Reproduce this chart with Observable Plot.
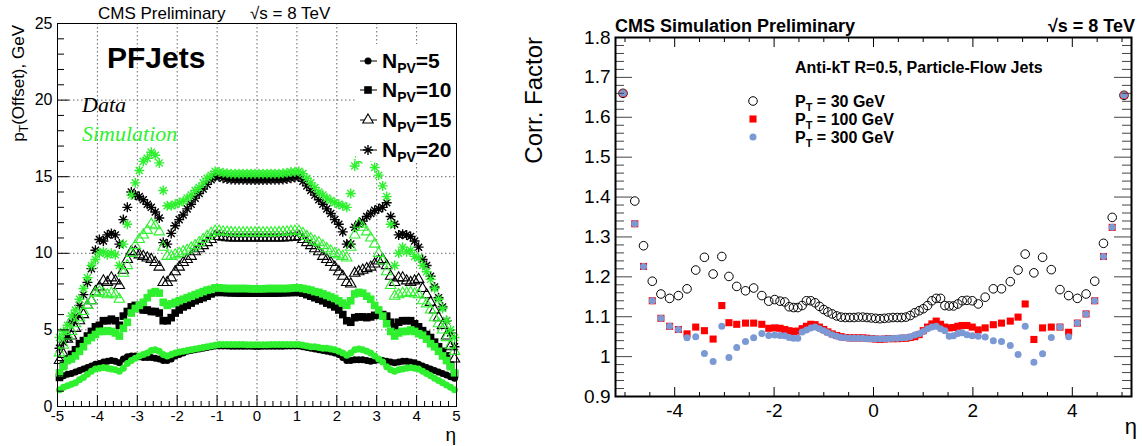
<!DOCTYPE html>
<html><head><meta charset="utf-8">
<script src="https://cdn.jsdelivr.net/npm/d3@7"></script>
<script src="https://cdn.jsdelivr.net/npm/@observablehq/plot@0.6"></script>
<style>
html,body{margin:0;padding:0;background:#fff;}
#wrap{position:relative;width:1142px;height:446px;overflow:hidden;font-family:"Liberation Sans",Arial,sans-serif;}
#wrap svg{position:absolute;top:0;}
</style></head><body><div id="wrap"></div>
<script>
// ---------------- LEFT PANEL DATA: offset pT vs eta ----------------
const etaL = [
-4.95,-4.85,-4.75,-4.65,-4.55,-4.45,-4.35,-4.25,-4.15,-4.05,
-3.95,-3.85,-3.75,-3.65,-3.55,-3.45,-3.35,-3.25,-3.15,-3.05,
-2.95,-2.85,-2.75,-2.65,-2.55,-2.45,-2.35,-2.25,-2.15,-2.05,
-1.95,-1.85,-1.75,-1.65,-1.55,-1.45,-1.35,-1.25,-1.15,-1.05,
-0.95,-0.85,-0.75,-0.65,-0.55,-0.45,-0.35,-0.25,-0.15,-0.05,
0.05,0.15,0.25,0.35,0.45,0.55,0.65,0.75,0.85,0.95,
1.05,1.15,1.25,1.35,1.45,1.55,1.65,1.75,1.85,1.95,
2.05,2.15,2.25,2.35,2.45,2.55,2.65,2.75,2.85,2.95,
3.05,3.15,3.25,3.35,3.45,3.55,3.65,3.75,3.85,3.95,
4.05,4.15,4.25,4.35,4.45,4.55,4.65,4.75,4.85,4.95];

const dataNPV5 = [
1.9,2.0,2.1,2.15,2.25,2.35,2.45,2.55,2.65,2.75,
2.8,2.9,2.95,3.0,2.95,2.85,3.1,3.25,3.3,3.3,
3.25,3.2,3.2,3.2,3.15,3.1,3.0,3.0,3.1,3.3,
3.4,3.5,3.6,3.65,3.7,3.75,3.8,3.85,3.9,3.95,
3.95,3.95,3.95,3.94,3.94,3.93,3.93,3.93,3.93,3.92,
3.92,3.93,3.93,3.93,3.93,3.94,3.94,3.95,3.95,3.95,
3.95,3.9,3.85,3.8,3.75,3.7,3.65,3.6,3.55,3.5,
3.4,3.2,3.0,3.0,3.05,3.05,3.05,3.0,2.95,3.0,
3.05,3.0,2.95,2.9,2.85,2.9,2.95,2.95,2.9,2.85,
2.75,2.65,2.55,2.45,2.35,2.25,2.15,2.05,1.95,1.85];
const simNPV5 = [
1.1,1.25,1.35,1.45,1.55,1.75,1.9,2.1,2.3,2.45,
2.5,2.55,2.5,2.45,2.4,2.3,2.5,2.8,3.0,3.15,
3.3,3.4,3.5,3.65,3.7,3.6,3.4,3.3,3.4,3.5,
3.55,3.6,3.65,3.7,3.75,3.8,3.85,3.9,3.95,4.0,
4.05,4.05,4.05,4.04,4.04,4.04,4.04,4.03,4.03,4.03,
4.03,4.03,4.03,4.04,4.04,4.04,4.04,4.05,4.05,4.05,
4.05,4.0,3.95,3.9,3.9,3.85,3.8,3.8,3.75,3.7,
3.6,3.5,3.35,3.5,3.7,3.75,3.7,3.6,3.5,3.3,
3.1,2.9,2.6,2.4,2.3,2.4,2.45,2.5,2.55,2.5,
2.45,2.3,2.15,2.0,1.85,1.7,1.55,1.4,1.25,1.1];
const dataNPV10 = [
1.9,2.7,3.1,3.4,3.7,4.1,4.3,4.6,4.9,5.2,
5.3,5.6,5.6,5.7,5.6,5.3,5.9,6.2,6.5,6.6,
6.4,6.3,6.3,6.2,6.2,6.1,5.6,5.6,5.8,6.1,
6.3,6.5,6.6,6.75,6.9,7.0,7.1,7.2,7.35,7.45,
7.45,7.45,7.43,7.42,7.41,7.4,7.4,7.4,7.4,7.4,
7.4,7.4,7.4,7.4,7.4,7.41,7.42,7.43,7.44,7.45,
7.45,7.4,7.3,7.2,7.1,7.0,6.9,6.75,6.65,6.5,
6.3,6.0,5.6,5.5,5.8,5.85,5.85,5.8,5.85,5.95,
6.0,6.0,5.9,5.5,5.2,5.5,5.6,5.6,5.6,5.4,
5.2,4.95,4.7,4.5,4.2,3.9,3.6,3.3,2.7,2.1];
const simNPV10 = [
2.2,2.6,3.0,3.1,3.3,3.6,3.9,4.3,4.5,4.7,
4.9,4.9,4.95,4.9,4.8,4.6,5.1,5.5,6.1,6.4,
6.6,6.8,7.1,7.4,7.5,7.4,6.8,6.6,6.7,6.8,
6.9,7.0,7.1,7.2,7.3,7.4,7.5,7.6,7.65,7.75,
7.75,7.72,7.7,7.7,7.7,7.7,7.7,7.7,7.68,7.68,
7.68,7.68,7.7,7.7,7.7,7.7,7.7,7.7,7.72,7.75,
7.75,7.7,7.65,7.6,7.5,7.45,7.35,7.25,7.15,7.05,
6.9,6.75,6.6,6.9,7.35,7.45,7.4,7.2,7.0,6.6,
6.3,5.9,5.4,4.9,4.6,4.8,4.9,4.9,5.0,4.9,
4.75,4.65,4.4,4.1,3.9,3.6,3.3,3.0,2.6,2.2];
const dataNPV15 = [
3.0,3.4,4.4,4.6,5.1,5.6,6.0,6.6,6.9,7.5,
7.8,8.2,8.1,8.4,8.2,7.9,8.9,9.6,10.1,10.1,
9.9,9.8,9.7,9.6,9.4,9.1,8.1,8.1,8.4,8.8,
9.1,9.4,9.6,9.8,10.1,10.3,10.5,10.7,10.9,11.1,
11.1,11.05,11.02,11.0,11.0,11.0,11.0,11.0,11.0,11.0,
11.0,11.0,11.0,11.0,11.0,11.0,11.0,11.02,11.05,11.05,
11.1,10.9,10.7,10.5,10.3,10.1,9.8,9.6,9.4,9.1,
8.8,8.5,8.1,8.0,8.7,8.8,8.9,9.0,9.1,9.3,
9.5,9.6,9.2,8.5,8.1,8.4,8.4,8.2,8.1,8.2,
8.3,7.7,7.3,6.8,6.3,5.8,5.3,4.6,3.9,3.1];
const simNPV15 = [
3.5,4.0,4.6,4.9,5.4,5.8,6.2,6.6,6.9,7.4,
7.5,7.4,7.3,7.4,7.3,7.0,8.7,9.2,10.0,10.5,
10.9,11.2,11.5,11.9,11.8,11.4,10.4,9.8,9.8,9.9,
10.0,10.1,10.2,10.35,10.5,10.7,10.9,11.1,11.3,11.45,
11.45,11.4,11.38,11.36,11.35,11.35,11.35,11.35,11.35,11.35,
11.35,11.35,11.35,11.35,11.35,11.36,11.38,11.4,11.43,11.45,
11.45,11.3,11.1,10.95,10.8,10.7,10.5,10.3,10.15,10.0,
9.9,9.8,9.7,10.4,11.2,11.9,11.7,11.4,11.0,10.6,
10.0,9.5,8.8,7.9,7.2,7.3,7.4,7.4,7.45,7.35,
7.3,6.9,6.7,6.3,5.8,5.4,5.0,4.5,4.0,3.6];
const dataNPV20 = [
3.8,4.2,4.5,5.5,5.9,6.6,7.3,8.1,9.0,10.2,
10.9,10.8,11.2,11.3,11.2,10.6,12.2,13.0,14.0,13.8,
13.7,13.5,13.2,13.0,12.7,12.3,10.7,10.6,11.3,11.8,
12.2,12.5,12.9,13.2,13.6,13.9,14.2,14.5,14.8,15.0,
15.0,14.9,14.85,14.82,14.8,14.8,14.8,14.78,14.78,14.78,
14.78,14.78,14.78,14.8,14.8,14.8,14.82,14.85,14.9,14.95,
15.0,14.7,14.4,14.1,13.8,13.5,13.2,12.9,12.6,12.2,
11.9,11.4,10.6,10.6,11.7,11.9,12.1,12.4,12.6,12.8,
12.9,13.0,13.3,12.4,11.9,11.2,11.25,11.2,11.1,10.8,
10.4,9.6,9.2,8.5,7.8,7.1,6.5,5.6,4.8,3.9];
const simNPV20 = [
4.5,4.9,5.3,5.9,6.3,7.0,7.7,8.4,9.2,9.6,
10.0,10.1,9.9,10.0,9.9,9.2,10.6,11.9,13.8,14.6,
15.4,16.0,16.2,16.6,16.4,15.9,14.1,13.1,13.1,13.2,
13.3,13.4,13.6,13.8,14.1,14.3,14.6,14.9,15.1,15.35,
15.3,15.25,15.22,15.2,15.2,15.2,15.2,15.2,15.2,15.2,
15.2,15.2,15.2,15.2,15.2,15.2,15.22,15.25,15.3,15.3,
15.35,15.2,14.9,14.6,14.3,14.0,13.8,13.6,13.45,13.3,
13.2,13.1,13.0,13.9,15.7,16.1,16.4,16.6,16.3,15.6,
15.1,14.4,13.7,11.9,9.2,10.0,10.4,10.1,10.2,9.8,
9.7,9.2,8.8,8.3,7.7,7.0,6.4,5.6,5.0,4.5];

const xTicksL = [-5,-4,-3,-2,-1,0,1,2,3,4,5];
const xMinorL = [-4.8,-4.6,-4.4,-4.2,-3.8,-3.6,-3.4,-3.2,-2.8,-2.6,-2.4,-2.2,-1.8,-1.6,-1.4,-1.2,-0.8,-0.6,-0.4,-0.2,
  0.2,0.4,0.6,0.8,1.2,1.4,1.6,1.8,2.2,2.4,2.6,2.8,3.2,3.4,3.6,3.8,4.2,4.4,4.6,4.8];
const yTicksL = [0,5,10,15,20,25];
const yMinorL = [1,2,3,4,6,7,8,9,11,12,13,14,16,17,18,19,21,22,23,24];
const gridXL = [-4,-3,-2,-1,0,1,2,3,4];
const gridYL = [5,10,15,20];
const legendL = ["5","10","15","20"];

// ---------------- RIGHT PANEL DATA: correction factor vs eta ----------------
const etaR = [
-5.04,-4.803,-4.627,-4.451,-4.277,-4.102,-3.926,-3.752,-3.577,-3.402,-3.227,-3.052,-2.909,-2.752,-2.575,-2.411,
-2.247,-2.108,-1.987,-1.88,-1.785,-1.697,-1.61,-1.523,-1.436,-1.349,-1.262,-1.175,-1.088,-1.001,
-0.918,-0.831,-0.74,-0.653,-0.566,-0.479,-0.392,-0.305,-0.218,-0.131,-0.044,
0.044,0.131,0.218,0.305,0.392,0.479,0.566,0.653,0.74,0.831,0.918,
1.001,1.088,1.175,1.262,1.349,1.436,1.523,1.61,1.697,1.785,1.88,1.987,2.108,2.247,
2.411,2.575,2.752,2.909,3.052,3.227,3.402,3.577,3.752,3.926,4.102,4.277,4.451,4.627,4.803,5.04];
const cf30 = [
1.66,1.39,1.278,1.189,1.157,1.146,1.153,1.17,1.217,1.249,1.207,1.251,1.201,1.176,1.165,1.172,
1.153,1.139,1.143,1.139,1.137,1.125,1.123,1.123,1.128,1.14,1.14,1.135,1.126,1.118,
1.112,1.107,1.102,1.099,1.098,1.098,1.098,1.099,1.099,1.098,1.097,
1.096,1.095,1.096,1.097,1.098,1.098,1.098,1.099,1.103,1.11,1.115,
1.12,1.128,1.14,1.146,1.146,1.128,1.127,1.127,1.132,1.14,1.141,1.14,1.132,1.149,
1.17,1.17,1.188,1.217,1.257,1.21,1.249,1.218,1.168,1.153,1.146,1.157,1.189,1.284,1.349,1.655];
const cf100 = [
1.66,1.333,1.226,1.14,1.096,1.076,1.068,1.057,1.074,1.065,1.044,1.128,1.085,1.081,1.084,1.084,
1.081,1.071,1.072,1.071,1.068,1.065,1.063,1.064,1.07,1.076,1.081,1.08,1.074,1.068,
1.062,1.057,1.053,1.05,1.048,1.047,1.047,1.047,1.047,1.046,1.045,
1.044,1.043,1.044,1.045,1.045,1.045,1.046,1.046,1.048,1.05,1.055,
1.065,1.074,1.082,1.089,1.081,1.074,1.072,1.073,1.076,1.078,1.078,1.074,1.067,1.072,
1.08,1.084,1.089,1.099,1.132,1.043,1.072,1.074,1.074,1.061,1.084,1.107,1.14,1.251,1.324,1.655];
const cf300 = [
1.66,1.333,1.226,1.14,1.096,1.076,1.068,1.047,1.05,1.008,0.988,1.076,0.998,1.023,1.038,1.047,
1.058,1.053,1.054,1.053,1.052,1.048,1.046,1.046,1.062,1.067,1.072,1.074,1.07,1.065,
1.06,1.055,1.051,1.048,1.047,1.046,1.046,1.046,1.046,1.045,1.045,
1.045,1.044,1.045,1.045,1.046,1.046,1.047,1.047,1.05,1.054,1.057,
1.063,1.07,1.074,1.076,1.07,1.065,1.051,1.052,1.058,1.06,1.055,1.052,1.051,1.049,
1.04,1.038,1.028,1.005,1.076,0.986,1.007,1.048,1.074,1.05,1.084,1.107,1.14,1.251,1.324,1.655];

const xTicksR = [-4,-2,0,2,4];
const xMinorR = [-5,-4.5,-3.5,-3,-2.5,-1.5,-1,-0.5,0.5,1,1.5,2.5,3,3.5,4.5,5];
const yTicksR = [0.9,1,1.1,1.2,1.3,1.4,1.5,1.6,1.7,1.8];
const yMinorR = [0.92,0.94,0.96,0.98,1.02,1.04,1.06,1.08,1.12,1.14,1.16,1.18,1.22,1.24,1.26,1.28,
  1.32,1.34,1.36,1.38,1.42,1.44,1.46,1.48,1.52,1.54,1.56,1.58,1.62,1.64,1.66,1.68,1.72,1.74,1.76,1.78];
const legendR = ["30","100","300"];

// ---------------- helpers ----------------
const GREEN = "#2ef02e";
const BLUE = "#7b99d4";
const RED = "#ff0000";
const FONT = "'Liberation Sans', Arial, sans-serif";
const rows = (eta, vals) => eta.map((x, i) => ({x, y: vals[i]}));
const star = {draw(ctx, size) {
  const r = Math.sqrt(size / Math.PI), d = r * 0.7071;
  ctx.moveTo(-r, 0); ctx.lineTo(r, 0); ctx.moveTo(0, -r); ctx.lineTo(0, r);
  ctx.moveTo(-d, -d); ctx.lineTo(d, d); ctx.moveTo(-d, d); ctx.lineTo(d, -d);
}};
const fmt = d => String(d);

const wrap = document.getElementById("wrap");

// ---------------- LEFT PLOT ----------------
const LW = 470, LH = 446, LML = 57, LMR = 14, LMT = 23, LMB = 40;
const LIW = LW - LML - LMR, LIH = LH - LMT - LMB;
const sty = {
  d5: {symbol: "circle", r: 3.5, fillOnly: true},
  d10: {symbol: "square", r: 4.3, fillOnly: true},
  d15: {symbol: "triangle", r: 3.9, sw: 1.1},
  d20: {symbol: star, r: 5, sw: 1.4}
};
function seriesMark(vals, kind, color) {
  const s = sty[kind];
  if (s.fillOnly) return Plot.dot(rows(etaL, vals), {x: "x", y: "y", symbol: s.symbol, r: s.r, fill: color, stroke: "none"});
  return Plot.dot(rows(etaL, vals), {x: "x", y: "y", symbol: s.symbol, r: s.r, fill: "none", stroke: color, strokeWidth: s.sw});
}
const left = Plot.plot({
  width: LW, height: LH, marginLeft: LML, marginRight: LMR, marginTop: LMT, marginBottom: LMB,
  x: {domain: [-5, 5]}, y: {domain: [0, 25]},
  style: {fontFamily: FONT, fontSize: "16px", background: "transparent", color: "black", overflow: "visible"},
  marks: [
    Plot.gridX(gridXL, {stroke: "#666", strokeOpacity: 1, strokeDasharray: "1.5,2.5"}),
    Plot.gridY(gridYL, {stroke: "#666", strokeOpacity: 1, strokeDasharray: "1.5,2.5"}),
    seriesMark(dataNPV5, "d5", "black"),
    seriesMark(dataNPV10, "d10", "black"),
    seriesMark(dataNPV15, "d15", "black"),
    seriesMark(dataNPV20, "d20", "black"),
    seriesMark(simNPV5, "d5", GREEN),
    seriesMark(simNPV10, "d10", GREEN),
    seriesMark(simNPV15, "d15", GREEN),
    seriesMark(simNPV20, "d20", GREEN),
    Plot.ruleX(xMinorL, {x: d => d, insetTop: LIH - 5, stroke: "black"}),
    Plot.ruleX(xTicksL, {x: d => d, insetTop: LIH - 11, stroke: "black"}),
    Plot.ruleY(yMinorL, {y: d => d, insetRight: LIW - 7, stroke: "black"}),
    Plot.ruleY(yTicksL, {y: d => d, insetRight: LIW - 12, stroke: "black"}),
    Plot.axisX(xTicksL, {tickSize: 0, tickPadding: 4, fontSize: 15, label: null, tickFormat: fmt}),
    Plot.axisY(yTicksL, {tickSize: 0, tickPadding: 5, fontSize: 16, label: null, tickFormat: fmt}),
    Plot.frame({stroke: "black", strokeWidth: 1})
  ]
});
left.style.left = "0px";
wrap.appendChild(left);

(function annotateLeft() {
  const g = d3.select(left).append("g").attr("font-family", FONT).attr("text-anchor", "start").attr("fill", "black");
  g.append("text").attr("x", 98).attr("y", 19).attr("font-size", 17).text("CMS Preliminary");
  g.append("text").attr("x", 250).attr("y", 19).attr("font-size", 17).text("√s = 8 TeV");
  const yl = g.append("text").attr("transform", "translate(24,25) rotate(-90)")
    .attr("text-anchor", "end").attr("font-size", 17);
  yl.append("tspan").text("p");
  yl.append("tspan").attr("font-size", 12).attr("dy", 4).text("T");
  yl.append("tspan").attr("dy", -4).text("(Offset), GeV");
  g.append("text").attr("x", 456).attr("y", 441).attr("text-anchor", "end").attr("font-size", 19).text("η");
  g.append("text").attr("x", 107).attr("y", 68).attr("font-size", 30).attr("font-weight", "bold").text("PFJets");
  g.append("text").attr("x", 82).attr("y", 112).attr("font-size", 22).attr("font-style", "italic")
    .attr("font-family", "'Liberation Serif', 'DejaVu Serif', serif").text("Data");
  g.append("text").attr("x", 82).attr("y", 141).attr("font-size", 22).attr("font-style", "italic")
    .attr("fill", GREEN).attr("font-family", "'Liberation Serif', 'DejaVu Serif', serif").text("Simulation");
  // legend
  g.append("rect").attr("x", 356).attr("y", 44).attr("width", 99).attr("height", 117).attr("fill", "white");
  const kinds = ["d5", "d10", "d15", "d20"];
  const ys = [61, 90, 120, 150];
  legendL.forEach((n, i) => {
    const y = ys[i], s = sty[kinds[i]];
    g.append("line").attr("x1", 360).attr("x2", 377).attr("y1", y).attr("y2", y).attr("stroke", "black");
    const sym = typeof s.symbol === "string" ? {circle: d3.symbolCircle, square: d3.symbolSquare, triangle: d3.symbolTriangle}[s.symbol] : s.symbol;
    const p = g.append("path").attr("transform", `translate(368,${y})`)
      .attr("d", d3.symbol(sym, Math.PI * s.r * s.r)());
    if (s.fillOnly) p.attr("fill", "black"); else p.attr("fill", "white").attr("stroke", "black").attr("stroke-width", s.sw);
    const t = g.append("text").attr("x", 382).attr("y", y + 7).attr("font-size", 21).attr("font-weight", "bold");
    t.append("tspan").text("N");
    t.append("tspan").attr("font-size", 14).attr("dy", 5).text("PV");
    t.append("tspan").attr("dy", -5).text("=" + n);
  });
})();

// ---------------- RIGHT PLOT ----------------
const RW = 622, RH = 446, RML = 95, RMR = 11, RMT = 37, RMB = 50;
const RIW = RW - RML - RMR, RIH = RH - RMT - RMB;
const right = Plot.plot({
  width: RW, height: RH, marginLeft: RML, marginRight: RMR, marginTop: RMT, marginBottom: RMB,
  x: {domain: [-5.191, 5.191]}, y: {domain: [0.9, 1.8]},
  style: {fontFamily: FONT, fontSize: "18px", background: "transparent", color: "black", overflow: "visible"},
  marks: [
    Plot.dot(rows(etaR, cf30), {x: "x", y: "y", r: 4.3, fill: "none", stroke: "black", strokeWidth: 1}),
    Plot.dot(rows(etaR, cf100), {x: "x", y: "y", symbol: "square", r: 4, fill: RED}),
    Plot.dot(rows(etaR, cf300), {x: "x", y: "y", r: 3.5, fill: BLUE}),
    Plot.ruleX(xMinorR, {x: d => d, insetTop: RIH - 4, stroke: "black"}),
    Plot.ruleX(xTicksR, {x: d => d, insetTop: RIH - 9, stroke: "black"}),
    Plot.ruleX(xMinorR, {x: d => d, insetBottom: RIH - 5, stroke: "black"}),
    Plot.ruleX(xTicksR, {x: d => d, insetBottom: RIH - 10, stroke: "black"}),
    Plot.ruleY(yMinorR, {y: d => d, insetRight: RIW - 9, stroke: "#444"}),
    Plot.ruleY(yTicksR, {y: d => d, insetRight: RIW - 17, stroke: "#444"}),
    Plot.ruleY(yMinorR, {y: d => d, insetLeft: RIW - 9, stroke: "#444"}),
    Plot.ruleY(yTicksR, {y: d => d, insetLeft: RIW - 17, stroke: "#444"}),
    Plot.axisX(xTicksR, {tickSize: 0, tickPadding: 7, fontSize: 19, label: null, tickFormat: fmt}),
    Plot.axisY(yTicksR, {tickSize: 0, tickPadding: 5, fontSize: 19, label: null, tickFormat: fmt}),
    Plot.frame({stroke: "black", strokeWidth: 2})
  ]
});
right.style.left = "520px";
wrap.appendChild(right);

(function annotateRight() {
  const g = d3.select(right).append("g").attr("font-family", FONT).attr("text-anchor", "start").attr("fill", "black");
  g.append("text").attr("x", 95).attr("y", 32).attr("font-size", 18).attr("font-weight", "bold").text("CMS Simulation Preliminary");
  g.append("text").attr("x", 615).attr("y", 32).attr("text-anchor", "end").attr("font-size", 18).attr("font-weight", "bold").text("√s = 8 TeV");
  g.append("text").attr("transform", "translate(22,37) rotate(-90)").attr("text-anchor", "end")
    .attr("font-size", 24).text("Corr. Factor");
  g.append("text").attr("x", 617).attr("y", 434).attr("text-anchor", "end").attr("font-size", 22).text("η");
  g.append("text").attr("x", 275).attr("y", 73).attr("font-size", 16).attr("font-weight", "bold").text("Anti-kT R=0.5, Particle-Flow Jets");
  const ys = [101, 119, 137];
  const syms = [
    p => p.attr("d", d3.symbol(d3.symbolCircle, Math.PI * 4.3 * 4.3)()).attr("fill", "none").attr("stroke", "black"),
    p => p.attr("d", d3.symbol(d3.symbolSquare, Math.PI * 4 * 4)()).attr("fill", RED),
    p => p.attr("d", d3.symbol(d3.symbolCircle, Math.PI * 3.5 * 3.5)()).attr("fill", BLUE)
  ];
  legendR.forEach((v, i) => {
    const y = ys[i];
    syms[i](g.append("path").attr("transform", `translate(233,${y})`));
    const t = g.append("text").attr("x", 275).attr("y", y + 6).attr("font-size", 16).attr("font-weight", "bold");
    t.append("tspan").text("P");
    t.append("tspan").attr("font-size", 11).attr("dy", 4).text("T");
    t.append("tspan").attr("dy", -4).text(" = " + v + " GeV");
  });
})();
</script></body></html>
